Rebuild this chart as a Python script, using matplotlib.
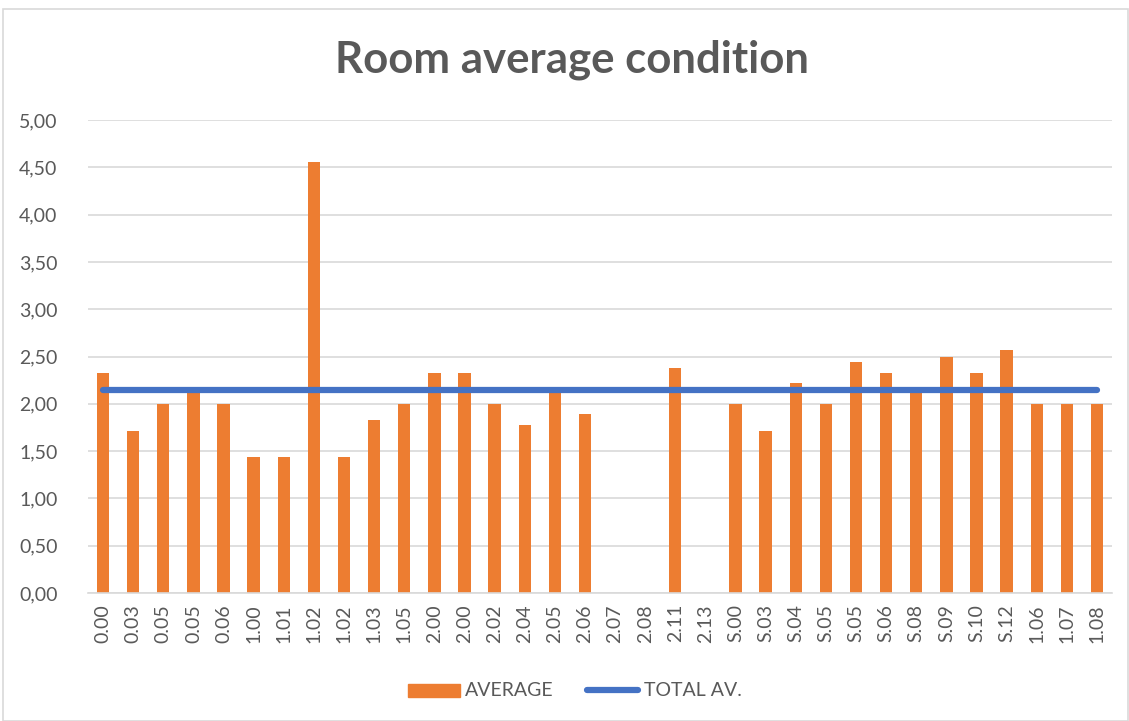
import numpy as np
import matplotlib.pyplot as plt
from matplotlib.patches import Rectangle
from matplotlib.lines import Line2D

rooms = ["0.00", "0.03", "0.05", "0.05", "0.06", "1.00", "1.01", "1.02", "1.02", "1.03",
         "1.05", "2.00", "2.00", "2.02", "2.04", "2.05", "2.06", "2.07", "2.08", "2.11",
         "2.13", "S.00", "S.03", "S.04", "S.05", "S.05", "S.06", "S.08", "S.09", "S.10",
         "S.12", "1.06", "1.07", "1.08"]
average = [2.33, 1.71, 2.00, 2.14, 2.00, 1.44, 1.44, 4.56, 1.44, 1.83,
           2.00, 2.33, 2.33, 2.00, 1.78, 2.14, 1.89, np.nan, np.nan, 2.38,
           np.nan, 2.00, 1.71, 2.22, 2.00, 2.44, 2.33, 2.14, 2.50, 2.33,
           2.57, 2.00, 2.00, 2.00]
total_av = 2.15

text_grey = "#595959"
orange = "#ED7D31"
blue = "#4472C4"

plt.rcParams['font.family'] = ['Lato', 'DejaVu Sans']

fig = plt.figure(figsize=(11.29, 7.21), dpi=100)
ax = fig.add_axes([88 / 1129, 1 - 593 / 721, 1024 / 1129, 473 / 721])

x = np.arange(len(rooms))
ax.bar(x, np.nan_to_num(average), width=0.41, color=orange, zorder=2)
ax.plot(x, [total_av] * len(x), color=blue, linewidth=4.5,
        solid_capstyle='round', zorder=3)

ax.set_xlim(-0.5, len(rooms) - 0.5)
ax.set_ylim(0, 5)
ax.set_yticks(np.arange(0, 5.01, 0.5))
ax.set_yticklabels([f"{v:.2f}".replace(".", ",") for v in np.arange(0, 5.01, 0.5)])
ax.set_xticks(x)
ax.set_xticklabels(rooms, rotation=90)
ax.tick_params(axis='both', length=0, labelsize=14, colors=text_grey)
ax.tick_params(axis='y', pad=22)
ax.tick_params(axis='x', pad=8)
ax.grid(axis='y', color="#D9D9D9", linewidth=1.2, zorder=0)
for side in ['top', 'right', 'left']:
    ax.spines[side].set_visible(False)
ax.spines['bottom'].set_color("#D9D9D9")
ax.spines['bottom'].set_linewidth(1.2)

fig.text(572 / 1129, 1 - 60 / 721, "Room average condition", ha='center', va='center',
         fontsize=31.5, fontweight='bold', color=text_grey)

# legend drawn manually to keep the Excel-style spacing
fig.patches.append(Rectangle((408 / 1129, 1 - 697 / 721), 52 / 1129, 13 / 721,
                             transform=fig.transFigure, color=orange))
fig.text(465 / 1129, 1 - 690 / 721, "AVERAGE", ha='left', va='center',
         fontsize=14, color=text_grey)
fig.lines.append(Line2D([587 / 1129, 638 / 1129], [1 - 690 / 721, 1 - 690 / 721],
                        transform=fig.transFigure, color=blue, linewidth=4.5,
                        solid_capstyle='round'))
fig.text(644 / 1129, 1 - 690 / 721, "TOTAL AV.", ha='left', va='center',
         fontsize=14, color=text_grey)

fig.patches.append(Rectangle((3 / 1129, 0), 1 - 4 / 1129, 1 - 9 / 721,
                             transform=fig.transFigure, fill=False,
                             edgecolor="#D9D9D9", linewidth=1.2))

fig.savefig("out.png", dpi=100)
